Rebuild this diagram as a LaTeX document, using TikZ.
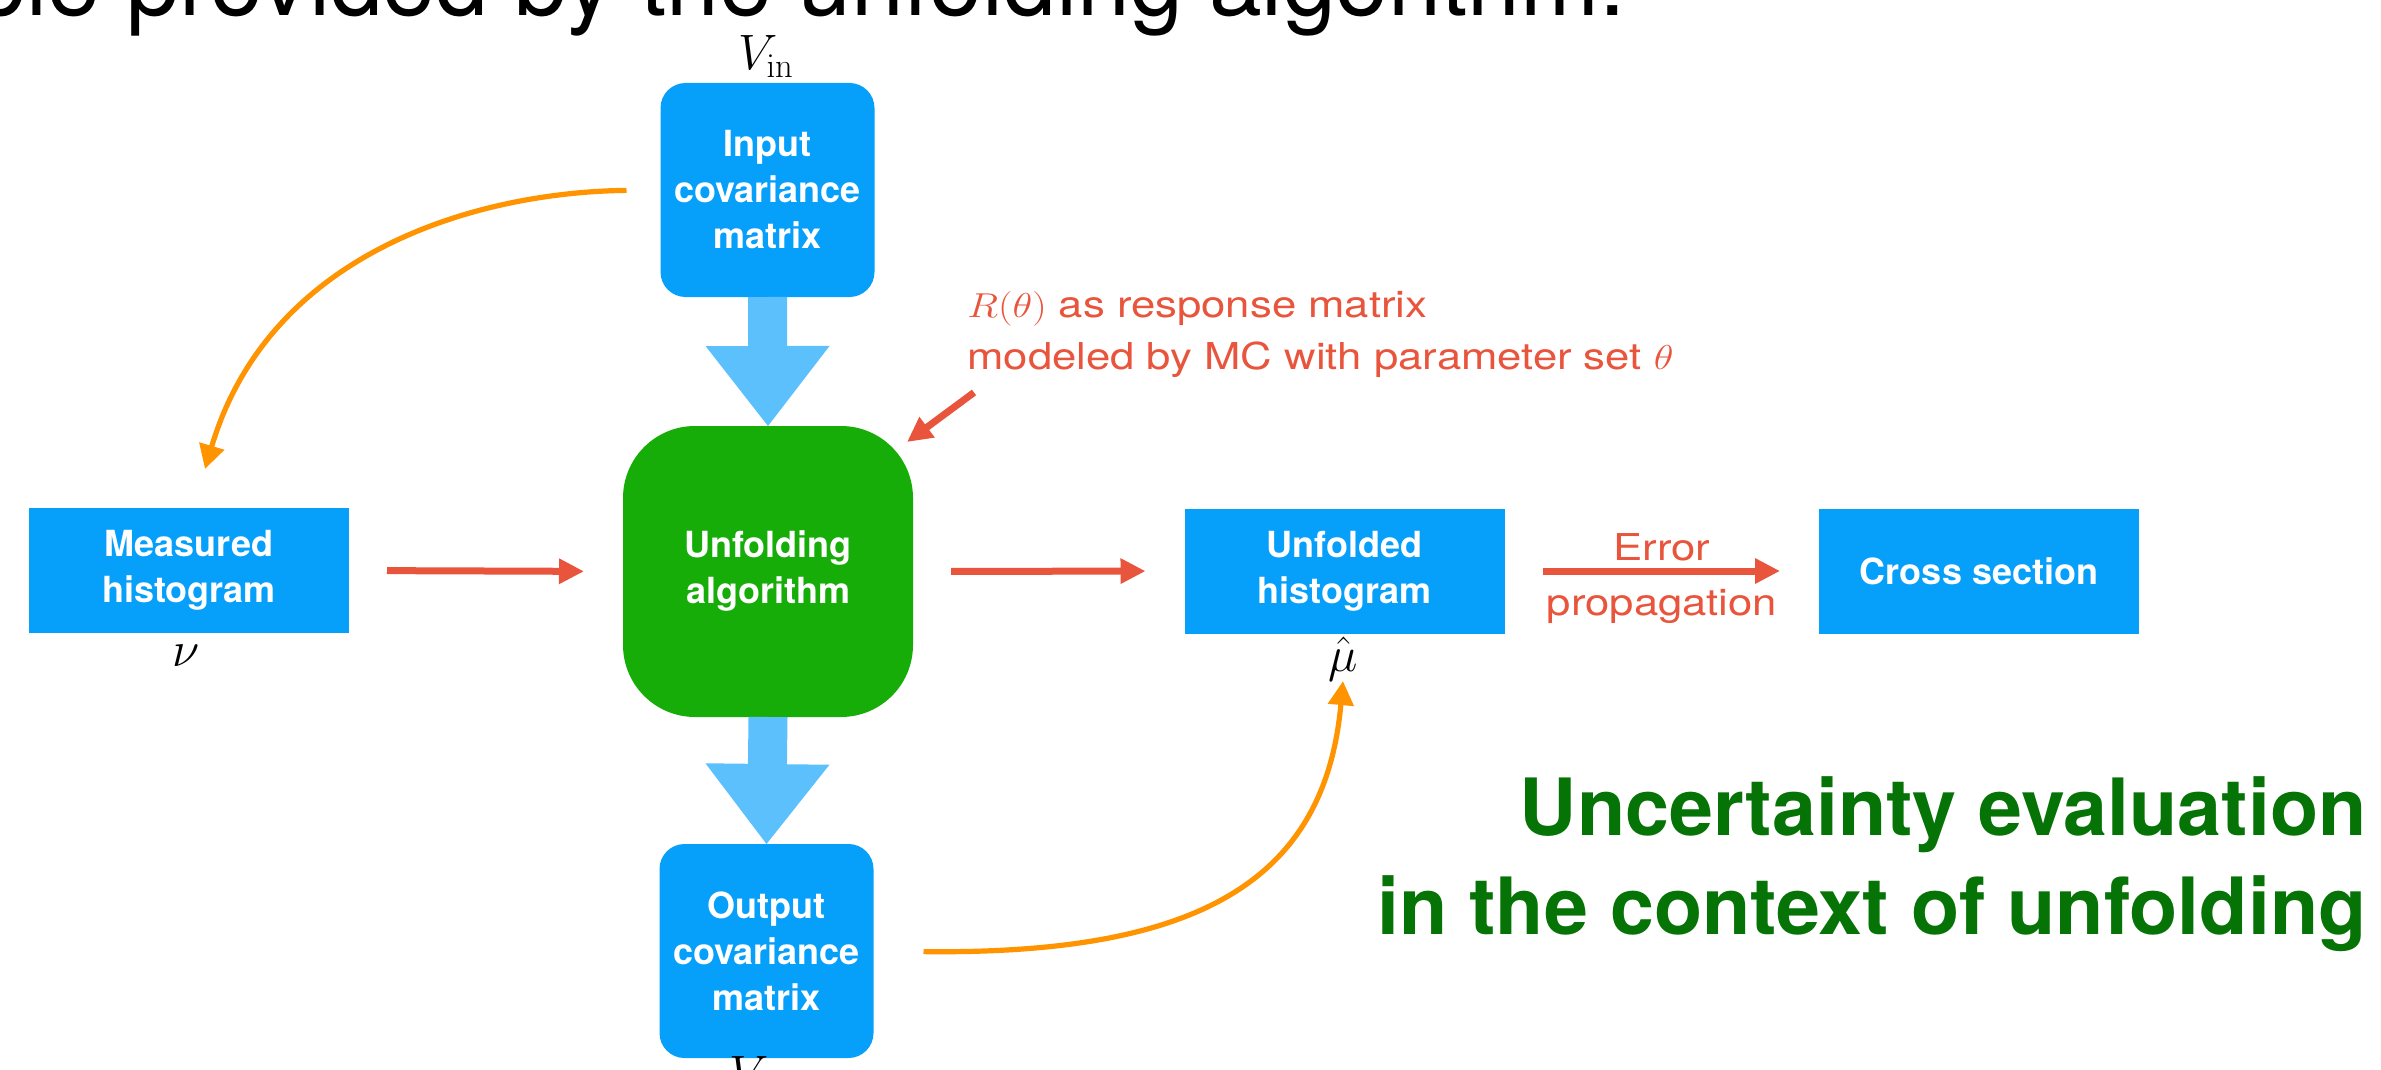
\documentclass[tikz,border=0pt]{standalone}
\usepackage[no-math]{fontspec}
\usepackage{graphicx}
\setmainfont{TeX Gyre Heros}
\newfontfamily\stretchfont[FakeStretch=1.18]{TeX Gyre Heros}
\usetikzlibrary{arrows.meta,calc}
\definecolor{boxblue}{HTML}{069FFA}
\definecolor{arrblue}{HTML}{5BC0FC}
\definecolor{algreen}{HTML}{17AD09}
\definecolor{redc}{HTML}{E8553C}
\definecolor{orangec}{HTML}{FF9300}
\definecolor{textgreen}{HTML}{057305}
\newcommand{\wmath}[1]{\scalebox{1.18}[1]{$#1$}}
\begin{document}
\begin{tikzpicture}[x=0.5pt,y=-0.5pt,
  boxtext/.style={text=white, font=\bfseries\fontsize{18}{23}\selectfont, align=center, inner sep=0pt, outer sep=0pt},
  rectbox/.style={boxtext, fill=boxblue, minimum width=160pt, minimum height=62.5pt},
  covbox/.style={boxtext, fill=boxblue, rounded corners=12.5pt, minimum width=107pt, minimum height=107pt},
  algbox/.style={boxtext, fill=algreen, rounded corners=36pt, minimum width=145pt, minimum height=145.5pt},
  mathlabel/.style={inner sep=0pt, font=\fontsize{24}{28}\selectfont},
  redtext/.style={inner sep=0pt, text=redc, font=\stretchfont\fontsize{18.5}{22}\selectfont},
  greentext/.style={inner sep=0pt, text=textgreen, font=\bfseries\fontsize{39.5}{48}\selectfont},
  redarrow/.style={draw=redc, line width=3.5pt, -{Triangle[length=12.5pt,width=12pt]}},
  orangearrow/.style={draw=orangec, line width=2.6pt, -{Triangle[length=12pt,width=12.5pt]}},
  bigarrow/.style={draw=arrblue, line width=19.5pt, -{Triangle[length=40pt,width=62pt,line width=0pt]}}
]
\useasboundingbox (0,0) rectangle (2381,1070);
\clip (0,0) rectangle (2381,1070);

% cut-off title line
\node[anchor=base west, inner sep=0pt, font=\fontsize{47.5}{56}\selectfont] (title) at (-27,16) {ble provided by the unfolding algorithm.};

% boxes
\node[covbox] (inbox) at (767.5,190) {Input\\covariance\\matrix};
\node[algbox] (alg) at (768,571.5) {Unfolding\\algorithm};
\node[covbox] (outbox) at (766.5,951) {Output\\covariance\\matrix};
\node[rectbox] (meas) at (189,570.5) {Measured\\histogram};
\node[rectbox] (unf) at (1344.5,571) {Unfolded\\histogram};
\node[rectbox] (cross) at (1979,571) {Cross section};

% math labels
\node[mathlabel, anchor=base] (vin) at (766,70) {$V_{\mathrm{in}}$};
\node[mathlabel, anchor=base] (nu) at (186,666) {$\nu$};
\node[mathlabel, anchor=base] (muhat) at (1343,671) {$\hat{\mu}$};
\node[mathlabel, anchor=base] (vout) at (767,1090) {$V_{\mathrm{out}}$};

% red labels
\node[redtext, anchor=base west] (resp1) at (967,317) {\wmath{R(\theta)} as response matrix};
\node[redtext, anchor=base west] (resp2) at (967,369) {modeled by MC with parameter set \wmath{\theta}};
\node[redtext, anchor=base] (err1) at (1662,560) {Error};
\node[redtext, anchor=base] (err2) at (1662,615) {propagation};

% green caption
\node[greentext, anchor=base east] (cap1) at (2367,835) {Uncertainty evaluation};
\node[greentext, anchor=base east] (cap2) at (2367,934) {in the context of unfolding};

% block arrows
\draw[bigarrow] (inbox.south) -- (alg.north);
\draw[bigarrow] (alg.south) -- (outbox.north);

% red arrows
\draw[redarrow, shorten <=19pt, shorten >=19.5pt] (meas.east) -- (alg.west);
\draw[redarrow, shorten <=19pt, shorten >=19.5pt] (alg.east) -- (unf.west);
\draw[redarrow, shorten <=19pt, shorten >=19.5pt] (unf.east) -- (cross.west);
\coordinate (rs) at ($(resp2.south west)+(7,15)$);
\coordinate (re) at ($(alg.north east)+(-6,16)$);
\draw[redarrow] (rs) -- (re);

% orange arrows
\coordinate (o1e) at ($(meas.north)+(16,-39)$);
\draw[orangearrow, shorten <=17pt] (inbox.west) .. controls (480,192) and (270,250) .. (o1e);
\draw[orangearrow, shorten <=25pt] (outbox.east) .. controls (1200,955) and (1325,880) .. (muhat.south);
\end{tikzpicture}
\end{document}
